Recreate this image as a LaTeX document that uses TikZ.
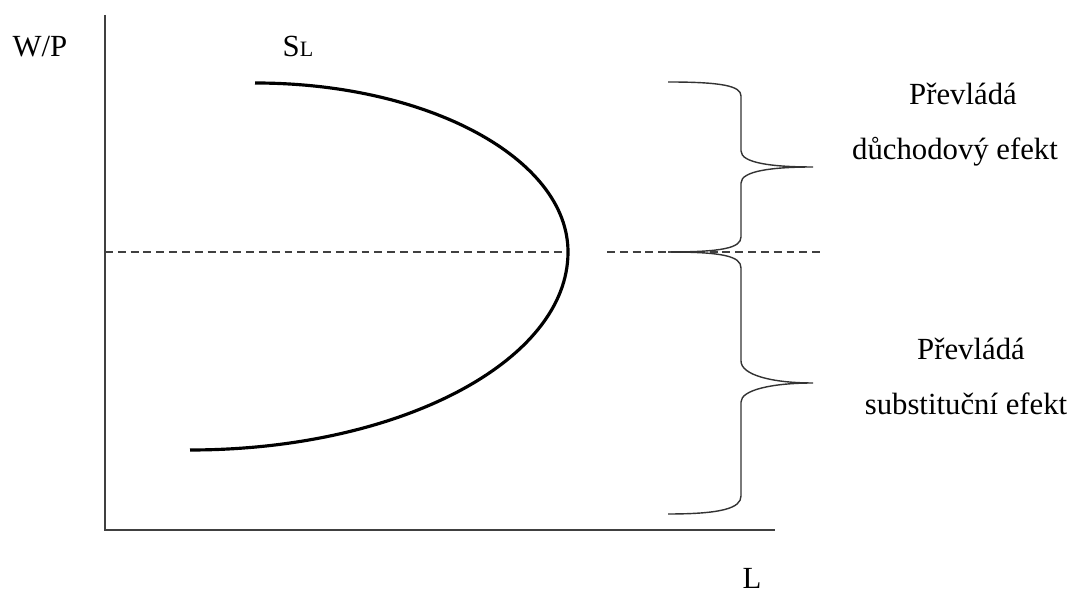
\documentclass[tikz,border=0pt]{standalone}
\usepackage{fontspec}
\setmainfont{Liberation Serif}
\begin{document}
\begin{tikzpicture}[x=0.02cm,y=0.02cm,
  axis/.style={black!75,line width=1.1pt},
  curve/.style={black,line width=1.8pt},
  guide/.style={black!75,line width=1.1pt,dash pattern=on 4.5pt off 2.8pt},
  bracket/.style={black!80,line width=0.8pt},
  lbl/.style={anchor=base,inner sep=0pt,font=\fontsize{17.5}{21}\selectfont}]
\useasboundingbox (0,0) rectangle (1081,594);

\draw[axis] (105,579) -- (105,64) -- (775,64);
\draw[curve] (255,511) arc (90:0:313 and 169) arc (0:-90:378 and 198);

\draw[guide] (105,342) -- (563,342);
\draw[guide] (607,342) -- (825,342);

\draw[bracket] (668,512) .. controls (722,512) and (741,508) .. (741,498) -- (741,443)
  .. controls (741,431) and (772,427) .. (813,427)
  .. controls (772,427) and (741,423) .. (741,411) -- (741,357)
  .. controls (741,346) and (722,342) .. (668,342);
\draw[bracket] (668,342) .. controls (722,342) and (741,338) .. (741,326) -- (741,233)
  .. controls (741,219) and (772,211) .. (813,211)
  .. controls (772,211) and (741,204) .. (741,192) -- (741,98)
  .. controls (741,86) and (722,80) .. (668,80);

\node[lbl] (wp) at (40,537) {W/P};
\node[lbl] (sl) at (298,537) {S{\fontsize{12.5}{14}\selectfont L}};
\node[lbl] (l) at (752,5) {L};
\node[lbl] (p1) at (963,489) {Převládá};
\node[lbl] (d1) at (955,434) {důchodový efekt};
\node[lbl] (p2) at (971,234) {Převládá};
\node[lbl] (s2) at (966,179) {substituční efekt};
\end{tikzpicture}
\end{document}
